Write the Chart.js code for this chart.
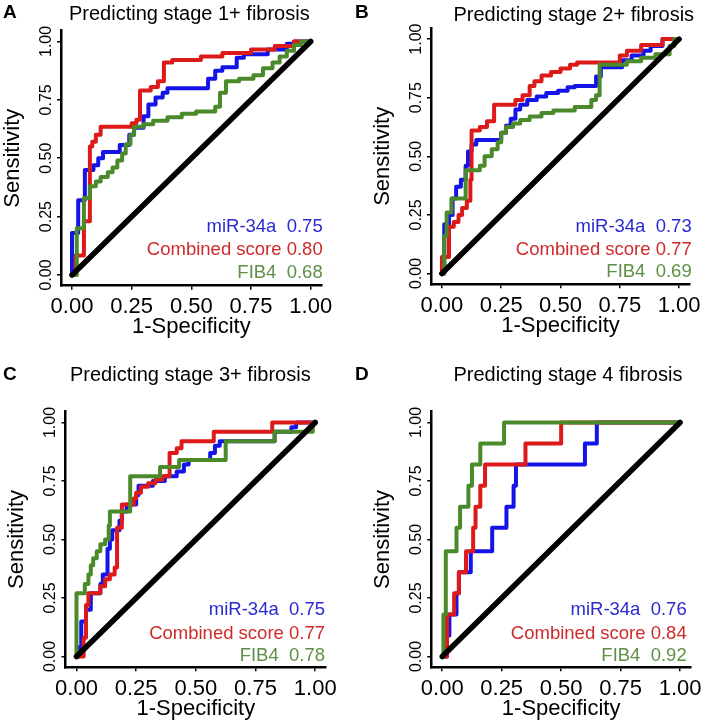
<!DOCTYPE html>
<html>
<head>
<meta charset="utf-8">
<script src="https://cdn.jsdelivr.net/npm/chart.js@4.4.1/dist/chart.umd.min.js"></script>
<style>
  body { margin: 0; background: #fff; }
  #fig { position: relative; width: 709px; height: 727px; font-family: 'Liberation Sans', Arial, sans-serif; color: #000; }
  #fig canvas { position: absolute; }
  .txt { position: absolute; line-height: 1; white-space: pre; }
  .letter { font-weight: bold; font-size: 19px; }
  .title { font-size: 20px; }
  .leg { font-size: 18.5px; text-align: right; }
</style>
</head>
<body>
<div id="fig"></div>
<script>
const FONT = "'Liberation Sans', Arial, sans-serif";

// categories / labels
const markers = ['miR-34a', 'Combined score', 'FIB4'];
const panelLetters = ['A', 'B', 'C', 'D'];
const panelTitles = ['Predicting stage 1+ fibrosis', 'Predicting stage 2+ fibrosis', 'Predicting stage 3+ fibrosis', 'Predicting stage 4 fibrosis'];
const tickVals = [0, 0.25, 0.5, 0.75, 1];
const tickLabels = ['0.00', '0.25', '0.50', '0.75', '1.00'];
const diagX = [0, 1];
const diagY = [0, 1];

// AUC per panel (miR-34a, combined, FIB4)
const aucA = ['0.75', '0.80', '0.68'];
const aucB = ['0.73', '0.77', '0.69'];
const aucC = ['0.75', '0.77', '0.78'];
const aucD = ['0.76', '0.84', '0.92'];

// ROC points: 1-specificity / sensitivity
const fprA_mir = [0, 0, 0.026, 0.054, 0.09, 0.11, 0.13, 0.2, 0.24, 0.26, 0.3, 0.32, 0.35, 0.38, 0.4, 0.57, 0.6, 0.63, 0.69, 0.72, 0.82, 0.9, 0.93, 1];
const tprA_mir = [0, 0.18, 0.32, 0.45, 0.47, 0.5, 0.527, 0.556, 0.6, 0.63, 0.68, 0.73, 0.76, 0.78, 0.8, 0.84, 0.875, 0.89, 0.93, 0.945, 0.965, 0.99, 1, 1];
const fprA_comb = [0, 0.015, 0.05, 0.075, 0.085, 0.1, 0.12, 0.25, 0.27, 0.285, 0.33, 0.36, 0.385, 0.42, 0.54, 0.63, 0.75, 0.85, 0.93, 1];
const tprA_comb = [0, 0.083, 0.23, 0.55, 0.57, 0.6, 0.635, 0.65, 0.665, 0.79, 0.805, 0.83, 0.91, 0.92, 0.935, 0.95, 0.965, 0.98, 1, 1];
const fprA_fib4 = [0, 0.02, 0.05, 0.075, 0.1, 0.12, 0.15, 0.17, 0.19, 0.21, 0.225, 0.245, 0.26, 0.3, 0.34, 0.4, 0.46, 0.52, 0.6, 0.62, 0.645, 0.7, 0.76, 0.8, 0.84, 0.87, 0.9, 0.93, 0.96, 1];
const tprA_fib4 = [0, 0.2, 0.33, 0.38, 0.4, 0.42, 0.44, 0.46, 0.49, 0.52, 0.56, 0.6, 0.635, 0.645, 0.66, 0.675, 0.69, 0.7, 0.72, 0.78, 0.83, 0.84, 0.855, 0.885, 0.91, 0.935, 0.96, 0.985, 1, 1];

const fprB_mir = [0, 0.01, 0.03, 0.045, 0.06, 0.08, 0.1, 0.11, 0.125, 0.145, 0.25, 0.27, 0.29, 0.31, 0.33, 0.36, 0.4, 0.44, 0.49, 0.53, 0.56, 0.65, 0.67, 0.76, 0.8, 0.85, 0.88, 0.93, 1];
const tprB_mir = [0, 0.21, 0.25, 0.32, 0.37, 0.4, 0.46, 0.52, 0.55, 0.57, 0.6, 0.63, 0.66, 0.7, 0.72, 0.74, 0.755, 0.77, 0.78, 0.795, 0.8, 0.84, 0.88, 0.91, 0.93, 0.95, 0.97, 1, 1];
const fprB_comb = [0, 0, 0.03, 0.05, 0.07, 0.085, 0.105, 0.12, 0.125, 0.16, 0.19, 0.22, 0.31, 0.34, 0.37, 0.39, 0.42, 0.46, 0.5, 0.54, 0.57, 0.75, 0.78, 0.84, 0.93, 1];
const tprB_comb = [0, 0.07, 0.2, 0.22, 0.25, 0.28, 0.31, 0.4, 0.61, 0.625, 0.65, 0.72, 0.74, 0.76, 0.8, 0.82, 0.845, 0.86, 0.875, 0.89, 0.9, 0.93, 0.95, 0.975, 1, 1];
const fprB_fib4 = [0, 0.01, 0.02, 0.04, 0.1, 0.16, 0.18, 0.21, 0.235, 0.25, 0.27, 0.3, 0.33, 0.37, 0.42, 0.47, 0.56, 0.63, 0.65, 0.665, 0.78, 0.84, 0.9, 0.96, 0.98, 1];
const tprB_fib4 = [0, 0.16, 0.26, 0.32, 0.44, 0.46, 0.5, 0.53, 0.56, 0.6, 0.625, 0.64, 0.655, 0.67, 0.685, 0.695, 0.71, 0.74, 0.76, 0.89, 0.905, 0.92, 0.935, 0.97, 1, 1];

const fprC_mir = [0, 0.01, 0.02, 0.04, 0.06, 0.1, 0.11, 0.13, 0.14, 0.15, 0.18, 0.19, 0.21, 0.25, 0.26, 0.32, 0.37, 0.42, 0.45, 0.47, 0.56, 0.58, 0.6, 0.83, 0.9, 0.92, 1];
const tprC_mir = [0, 0.04, 0.15, 0.2, 0.27, 0.31, 0.35, 0.46, 0.5, 0.54, 0.58, 0.62, 0.65, 0.69, 0.73, 0.75, 0.77, 0.79, 0.82, 0.84, 0.87, 0.9, 0.92, 0.96, 0.98, 1, 1];
const fprC_comb = [0, 0.03, 0.04, 0.05, 0.1, 0.12, 0.14, 0.16, 0.17, 0.19, 0.24, 0.25, 0.27, 0.3, 0.33, 0.36, 0.39, 0.42, 0.44, 0.575, 0.82, 1];
const tprC_comb = [0, 0.08, 0.22, 0.27, 0.3, 0.33, 0.35, 0.38, 0.55, 0.65, 0.675, 0.7, 0.725, 0.74, 0.755, 0.77, 0.87, 0.89, 0.92, 0.96, 1, 1];
const fprC_fib4 = [0, 0, 0.035, 0.05, 0.06, 0.07, 0.085, 0.1, 0.12, 0.135, 0.14, 0.225, 0.35, 0.43, 0.625, 0.83, 0.99, 1];
const tprC_fib4 = [0, 0.27, 0.31, 0.35, 0.39, 0.42, 0.45, 0.48, 0.5, 0.56, 0.62, 0.77, 0.81, 0.84, 0.92, 0.96, 1, 1];

const fprD_mir = [0, 0.02, 0.03, 0.06, 0.07, 0.12, 0.21, 0.27, 0.3, 0.31, 0.6, 0.65, 1];
const tprD_mir = [0, 0.09, 0.18, 0.27, 0.36, 0.45, 0.55, 0.64, 0.73, 0.82, 0.91, 1, 1];
const fprD_comb = [0, 0.02, 0.05, 0.07, 0.1, 0.13, 0.14, 0.16, 0.18, 0.35, 0.5, 1];
const tprD_comb = [0, 0.18, 0.27, 0.36, 0.45, 0.55, 0.64, 0.73, 0.82, 0.91, 1, 1];
const fprD_fib4 = [0, 0.005, 0.015, 0.06, 0.075, 0.11, 0.125, 0.16, 0.26, 1];
const tprD_fib4 = [0, 0.18, 0.45, 0.55, 0.64, 0.73, 0.82, 0.91, 1, 1];

const lineColors = ['#1414e8', '#dc1a1a', '#4b8a2b'];
const textColors = ['#2a2ad0', '#d02a2a', '#5f8e45'];

// layout: canvas box (page px), plot box inside canvas, text anchors (page px)
const panels = [
  { auc: aucA, fpr: [fprA_mir, fprA_comb, fprA_fib4], tpr: [tprA_mir, tprA_comb, tprA_fib4],
    box: { x: 0, y: 0, w: 354, h: 360 }, area: { l: 61, t: 30.7, r: 321.7, b: 285.7 },
    letterAt: [3, 18.5], titleAt: [69, 20], legRight: 322.7, legBase: [233, 256, 278.5] },
  { auc: aucB, fpr: [fprB_mir, fprB_comb, fprB_fib4], tpr: [tprB_mir, tprB_comb, tprB_fib4],
    box: { x: 354, y: 0, w: 355, h: 360 }, area: { l: 77, t: 28.3, r: 336, b: 284.3 },
    letterAt: [355, 18.5], titleAt: [453.4, 20.7], legRight: 691.7, legBase: [233, 255.5, 278] },
  { auc: aucC, fpr: [fprC_mir, fprC_comb, fprC_fib4], tpr: [tprC_mir, tprC_comb, tprC_fib4],
    box: { x: 0, y: 360, w: 354, h: 367 }, area: { l: 65.5, t: 51.7, r: 326.2, b: 307.3 },
    letterAt: [3, 380], titleAt: [70, 380.7], legRight: 325, legBase: [616, 639.5, 661.5] },
  { auc: aucD, fpr: [fprD_mir, fprD_comb, fprD_fib4], tpr: [tprD_mir, tprD_comb, tprD_fib4],
    box: { x: 354, y: 360, w: 355, h: 367 }, area: { l: 77.3, t: 51.7, r: 337, b: 307.3 },
    letterAt: [355, 380], titleAt: [453.4, 380.7], legRight: 686.7, legBase: [616, 639.5, 661.5] }
];

const fig = document.getElementById('fig');

function toPts(xs, ys) {
  return xs.map((x, i) => ({ x: x, y: ys[i] }));
}

// html text placed by baseline (line-height 1, Liberation Sans ascent ~0.8465em)
function addText(cls, text, size, left, base, color, right) {
  const d = document.createElement('div');
  d.className = 'txt ' + cls;
  d.textContent = text;
  d.style.top = (base - 0.8465 * size) + 'px';
  if (right !== undefined) d.style.right = (709 - right) + 'px';
  else d.style.left = left + 'px';
  if (color) d.style.color = color;
  fig.appendChild(d);
}

// R style y labels, rotated and read bottom-up
const yTickRot = {
  id: 'yTickRot',
  afterDraw(chart) {
    const s = chart.scales.y;
    const ctx = chart.ctx;
    ctx.save();
    ctx.font = '16px ' + FONT;
    ctx.fillStyle = '#000';
    ctx.textAlign = 'center';
    ctx.textBaseline = 'middle';
    s.ticks.forEach((t, i) => {
      ctx.save();
      ctx.translate(chart.chartArea.left - 14.5, s.getPixelForValue(t.value));
      ctx.rotate(-Math.PI / 2);
      ctx.fillText(tickLabels[i], 0, 0);
      ctx.restore();
    });
    ctx.restore();
  }
};

function makePanel(p, idx) {
  const a = p.area;
  const cv = document.createElement('canvas');
  cv.width = p.box.w;
  cv.height = p.box.h;
  cv.style.left = p.box.x + 'px';
  cv.style.top = p.box.y + 'px';
  fig.appendChild(cv);

  // first dataset is drawn on top in Chart.js
  const datasets = [{ data: toPts(diagX, diagY), borderColor: '#000', borderWidth: 5.5, showLine: true }];
  for (let i = 2; i >= 0; i--) {
    datasets.push({ data: toPts(p.fpr[i], p.tpr[i]), borderColor: lineColors[i], borderWidth: 4, showLine: true, stepped: 'before' });
  }

  const grid = { display: true, drawOnChartArea: false, drawTicks: true, tickLength: 4, color: '#000', lineWidth: 1.5 };
  const border = { display: true, color: '#000', width: 2.5 };
  const setTicks = s => { s.ticks = tickVals.map(v => ({ value: v })); };

  new Chart(cv, {
    type: 'scatter',
    data: { datasets: datasets },
    options: {
      responsive: false,
      animation: false,
      devicePixelRatio: 1,
      layout: { padding: { left: 0, top: a.t, right: p.box.w - a.r, bottom: 0 } },
      plugins: { legend: { display: false }, tooltip: { enabled: false } },
      elements: { point: { radius: 0 }, line: { borderCapStyle: 'round', borderJoinStyle: 'round', tension: 0 } },
      scales: {
        x: {
          type: 'linear', min: -0.046, max: 1.046,
          afterBuildTicks: setTicks,
          afterFit: s => { s.height = p.box.h - a.b; },
          grid: grid, border: border,
          ticks: { font: { family: FONT, size: 22 }, color: '#000', padding: 4.3, maxRotation: 0, autoSkip: false,
                   callback: (v, i) => tickLabels[i] },
          title: { display: true, text: '1-Specificity', color: '#000', font: { family: FONT, size: 22 },
                   padding: { top: 0, bottom: p.box.h - a.b - 41.7 - 13.2 } }
        },
        y: {
          type: 'linear', min: -0.046, max: 1.046,
          afterBuildTicks: setTicks,
          afterFit: s => { s.width = a.l; },
          grid: grid, border: border,
          ticks: { display: false },
          title: { display: true, text: 'Sensitivity', color: '#000', font: { family: FONT, size: 22 },
                   padding: { top: a.l - 48.5 - 13.2, bottom: 0 } }
        }
      }
    },
    plugins: [yTickRot]
  });

  addText('letter', panelLetters[idx], 19, p.letterAt[0], p.letterAt[1]);
  addText('title', panelTitles[idx], 20, p.titleAt[0], p.titleAt[1]);
  markers.forEach((m, i) => {
    const gap = i === 1 ? ' ' : '  ';
    addText('leg', m + gap + p.auc[i], 18.5, 0, p.legBase[i], textColors[i], p.legRight);
  });
}

panels.forEach(makePanel);
</script>
</body>
</html>
